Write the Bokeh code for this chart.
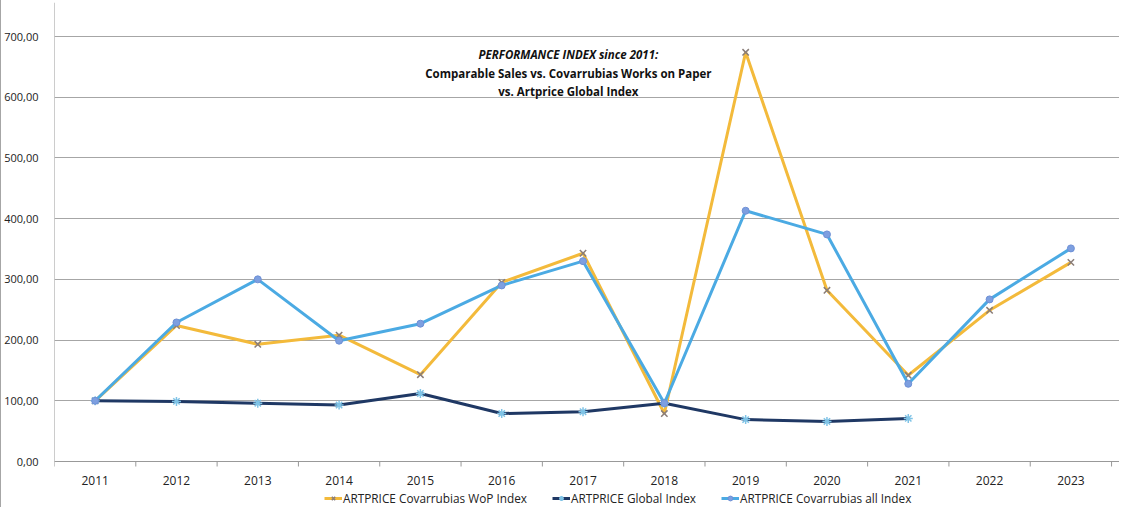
from bokeh.plotting import figure
from bokeh.models import (FixedTicker, CustomJSTickFormatter, Legend, LegendItem,
                          ColumnDataSource, Range1d)
from bokeh.core.properties import value
from bokeh.embed import file_html
from bokeh.resources import INLINE

years = [2011, 2012, 2013, 2014, 2015, 2016, 2017, 2018, 2019, 2020, 2021, 2022, 2023]
wop_index = [100, 224, 193, 208, 143, 295, 343, 79, 674, 282, 142, 249, 328]
global_years = [2011, 2012, 2013, 2014, 2015, 2016, 2017, 2018, 2019, 2020, 2021]
global_index = [100, 99, 96, 93, 112, 79, 82, 96, 69, 66, 71]
all_index = [100, 229, 300, 199, 227, 290, 330, 96, 413, 374, 128, 267, 351]
y_ticks = [0, 100, 200, 300, 400, 500, 600, 700]
year_labels = [str(y) for y in years]
series_names = ["ARTPRICE Covarrubias WoP Index", "ARTPRICE Global Index",
                "ARTPRICE Covarrubias all Index"]
title_lines = ["PERFORMANCE INDEX since 2011:",
               "Comparable Sales vs. Covarrubias Works on Paper",
               "vs. Artprice Global Index"]

FONT = "Open Sans"
W, H = 1119, 507
TOP_BORDER, LEFT_BORDER = 2, 52
Y_MAX = 756.0
PX_PER_UNIT = 425.0 / 700.0          # vertical scale (pixels per index point)
X_MIN, X_MAX = years[0] - 0.5, 2023.61
frame_h = H - TOP_BORDER
Y_MIN = Y_MAX - frame_h / PX_PER_UNIT  # frame extends below 0 to host axis labels and legend

p = figure(width=W, height=H, output_backend="svg", toolbar_location=None,
           x_range=Range1d(X_MIN, X_MAX), y_range=Range1d(Y_MIN, Y_MAX),
           min_border_left=LEFT_BORDER, min_border_right=0, min_border_top=TOP_BORDER,
           min_border_bottom=0)
p.outline_line_color = None
p.background_fill_color = "white"
p.border_fill_color = "white"
p.styles = {"border-left": "1px solid #a6a6a6"}

# y axis (labels only; its line is drawn from 0 upward below)
p.yaxis.ticker = FixedTicker(ticks=y_ticks)
p.yaxis.formatter = CustomJSTickFormatter(code="return tick.toFixed(2).replace('.', ',');")
p.yaxis.major_tick_line_color = None
p.yaxis.minor_tick_line_color = None
p.yaxis.axis_line_color = None
p.yaxis.major_label_text_font = FONT
p.yaxis.major_label_text_font_size = "11px"
p.yaxis.major_label_text_color = "#222222"
p.yaxis.major_label_standoff = 10
p.ygrid.ticker = FixedTicker(ticks=y_ticks)
p.ygrid.grid_line_color = "#a6a6a6"
p.ygrid.grid_line_width = 1
p.xaxis.visible = False
p.xgrid.grid_line_color = None

AXIS_COLOR = "#999999"
# value axis line
p.segment(x0=[X_MIN], y0=[0], x1=[X_MIN], y1=[Y_MAX], line_color=AXIS_COLOR, line_width=1)
# category axis line and tick marks between categories
p.segment(x0=[X_MIN], y0=[0], x1=[X_MAX], y1=[0], line_color=AXIS_COLOR, line_width=1)
tick_pos = [y - 0.5 for y in years] + [years[-1] + 0.5]
tick_len = 5 / PX_PER_UNIT
p.segment(x0=tick_pos, y0=[0] * len(tick_pos), x1=tick_pos, y1=[-tick_len] * len(tick_pos),
          line_color=AXIS_COLOR, line_width=1)
# category labels
p.text(x=years, y=[-19 / PX_PER_UNIT] * len(years), text=year_labels, text_font=value(FONT),
       text_font_size="12px", text_align="center", text_baseline="middle", text_color="#222222")

YELLOW = "#F3BA3B"
NAVY = "#1F3864"
BLUE = "#4BAAE3"

src_wop = ColumnDataSource(dict(x=years, y=wop_index))
src_glob = ColumnDataSource(dict(x=global_years, y=global_index))
src_all = ColumnDataSource(dict(x=years, y=all_index))

l1 = p.line("x", "y", source=src_wop, line_color=YELLOW, line_width=3)
m1 = p.scatter("x", "y", source=src_wop, marker="x", size=9, line_color="#8A7D78", line_width=1.5)
l2 = p.line("x", "y", source=src_glob, line_color=NAVY, line_width=3)
m2 = p.scatter("x", "y", source=src_glob, marker="asterisk", size=9, line_color="#7FC3E6", line_width=1.5)
l3 = p.line("x", "y", source=src_all, line_color=BLUE, line_width=3)
m3 = p.scatter("x", "y", source=src_all, marker="circle", size=7, fill_color="#7D9FE0",
               line_color="#6E90D6", line_width=1)

# title inside plot
title_x = [2016.82, 2016.82, 2016.82]
title_y = [670, 639, 609]
p.text(x=title_x[0:1], y=title_y[0:1], text=title_lines[0:1], text_font=value(FONT),
       text_font_size="11.5px", text_font_style="bold italic", text_align="center",
       text_baseline="middle", text_color="#111111")
p.text(x=title_x[1:], y=title_y[1:], text=title_lines[1:], text_font=value(FONT),
       text_font_size="11.5px", text_font_style="bold", text_align="center",
       text_baseline="middle", text_color="#111111")

legend = Legend(items=[LegendItem(label=series_names[0], renderers=[l1, m1]),
                       LegendItem(label=series_names[1], renderers=[l2, m2]),
                       LegendItem(label=series_names[2], renderers=[l3, m3])],
                orientation="horizontal", location=(270, 1))
legend.label_text_font = FONT
legend.label_text_font_size = "11.8px"
legend.label_text_color = "#222222"
legend.glyph_width = 18
legend.glyph_height = 12
legend.label_standoff = 1
legend.label_height = 12
legend.spacing = 25
legend.padding = 0
legend.margin = 0
legend.border_line_color = None
legend.background_fill_alpha = 0
p.add_layout(legend, "center")

open("out.html", "w").write(file_html(p, INLINE))
